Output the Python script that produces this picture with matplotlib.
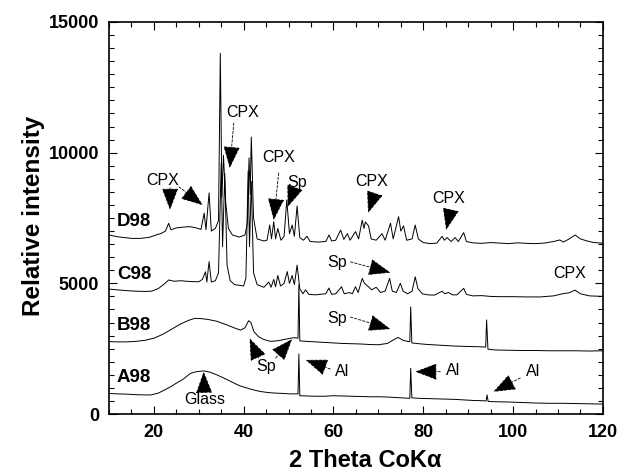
import numpy as np
import matplotlib
matplotlib.use("Agg")
import matplotlib.pyplot as plt
from matplotlib.ticker import MultipleLocator

plt.rcParams['font.family'] = ['Liberation Sans', 'DejaVu Sans']

# ---- read-off trace points (2 theta, intensity) ----
a98_x = [10, 12, 14, 16, 18, 19.3, 21, 22.5, 23.8, 25, 26.5, 28.2, 29.5, 31.1, 32.5, 34, 34.9,
         36.5, 38, 39.3, 41, 42.5, 43.8, 45.5, 47, 48.5, 50.4, 52.1, 52.3, 52.5, 54, 56, 58, 60,
         62, 64, 66, 68, 70, 72, 74, 76, 77.0, 77.2, 77.45, 79, 81, 83, 85, 87, 89, 91, 93, 94.0,
         94.2, 94.45, 96, 99, 102, 105, 108, 111, 114, 117, 120]
a98_y = [790, 770, 760, 740, 730, 730, 800, 930, 1050, 1180, 1330, 1560, 1620, 1650, 1600, 1500, 1430,
         1300, 1170, 1070, 980, 910, 860, 820, 800, 790, 770, 770, 2300, 700, 690, 680, 680, 700,
         690, 680, 670, 660, 660, 650, 630, 610, 600, 1750, 620, 600, 590, 580, 570, 560, 540, 520, 510, 500,
         730, 480, 470, 460, 440, 420, 410, 410, 400, 390, 380]

b98_x = [10, 12, 14, 16, 18, 20, 22, 24, 26, 28, 29.2, 30.5, 32, 34, 36.4, 38, 39.3, 40.3, 41.1,
         41.6, 42.3, 43.3, 44.5, 46, 47.5, 49, 50.4, 51.5, 52.1, 52.3, 52.5, 54, 56, 58, 60, 62, 64,
         66, 68, 70, 72, 73.5, 74.4, 75.5, 76.5, 77.0, 77.2, 77.45, 79, 81, 83, 85, 87, 89, 91, 93,
         93.9, 94.1, 94.4, 96, 99, 102, 105, 108, 111, 114, 117, 120]
b98_y = [2770, 2760, 2760, 2780, 2820, 2900, 3050, 3250, 3450, 3600, 3660, 3650, 3620, 3550, 3400, 3290,
         3210, 3300, 3570, 3500, 3150, 2960, 2850, 2780, 2800, 2850, 2900, 2920, 2900, 4950, 2800, 2780,
         2760, 2740, 2720, 2700, 2690, 2680, 2660, 2650, 2700, 2850, 2930, 2820, 2780, 2770, 4100, 2720,
         2690, 2660, 2640, 2620, 2600, 2590, 2580, 2570, 2560, 3600, 2480, 2450, 2440, 2430, 2430, 2420,
         2420, 2420, 2410, 2420]

c98_x = [10, 12, 14, 16, 18, 19.5, 21, 22.5, 23.3, 24.5, 26, 28, 30, 30.8, 31.5, 31.8, 32.3, 32.8,
         33.7, 34.4, 35.0, 35.3, 35.8, 36.3, 37.0, 38, 40, 40.5, 41.0, 41.3, 41.7, 42.2, 43, 44.5,
         45.6, 46.1, 46.7, 47.1, 47.6, 48.2, 49.0, 49.7, 50.2, 50.8, 51.3, 51.9, 52.5, 53.2, 53.8,
         54.5, 56, 57, 58.3, 59, 59.6, 60.5, 61.8, 62.4, 63.5, 64.2, 64.9, 65.5, 66.4, 66.9, 67.6,
         68.5, 69.5, 70.5, 71.5, 72.5, 73.1, 74.0, 74.9, 75.5, 76.5, 77.5, 78.2, 78.8, 79.8, 81,
         82.5, 84.2, 84.8, 85.6, 86.5, 87.5, 89.0, 89.6, 91, 93, 95, 97, 100, 103, 106, 109, 111,
         112.5, 113.8, 115, 117, 120]
c98_y = [4780, 4750, 4720, 4700, 4690, 4700, 4800, 5000, 5130, 5080, 5100, 5070, 5060, 5150, 5440, 5050,
         5830, 5050, 5100, 5400, 9600, 6400, 9200, 5700, 5100, 4950, 4900, 5200, 9300, 6400, 8900, 5400,
         4950, 4850, 5050, 4850, 5150, 4870, 5300, 4900, 5000, 5450, 5000, 5300, 4950, 5700, 4800, 4600,
         4750, 4580, 4560, 4580, 4600, 4820, 4580, 4600, 4870, 4600, 4650, 4600, 4870, 4650, 5190, 5000,
         4900, 4750, 4850, 4650, 4700, 5190, 4700, 4650, 5000, 4700, 4600, 4700, 5250, 4800, 4600, 4560,
         4550, 4700, 4600, 4650, 4560, 4560, 4810, 4580, 4520, 4530, 4500, 4490, 4490, 4480, 4480, 4520,
         4600, 4640, 4740, 4600, 4520, 4500]

d98_x = [10, 12, 15, 17, 19, 20.5, 21.6, 22.6, 23.3, 23.8, 25, 26.5, 28, 29.5, 30.5, 31.2, 31.6, 32.3,
         32.8, 33.7, 34.4, 34.8, 35.15, 35.5, 36.0, 36.6, 37.5, 39, 40.3, 40.8, 41.2, 41.45, 41.7, 42.2,
         43, 44.5, 45.2, 45.8, 46.2, 46.7, 47.1, 47.6, 48.3, 49.0, 49.6, 50.2, 50.8, 51.3, 51.9, 52.5,
         53.3, 54.1, 54.8, 56.5, 58.3, 59, 59.6, 60.5, 61.6, 62.3, 63.1, 63.7, 64.9, 65.6, 66.4, 66.8,
         67.1, 67.8, 68.4, 69.5, 70.8, 71.5, 72.7, 73.3, 74.5, 75.0, 75.6, 76.3, 77.5, 78.2, 78.9, 80,
         81.5, 83, 84.2, 84.7, 85.3, 86.2, 87.1, 87.8, 89.0, 89.6, 91, 93, 95, 97, 99, 101, 103, 105,
         107, 109, 110.4, 111.2, 112.5, 113.8, 115, 116.5, 118, 120]
d98_y = [6850, 6780, 6720, 6720, 6760, 6850, 6910, 7000, 7300, 7050, 7120, 7150, 7170, 7120, 7060, 7690,
         7050, 8460, 7000, 7100, 7400, 13800, 8300, 9900, 8100, 7100, 6850, 6770, 6850, 7300, 9800, 8400,
         10600, 7500, 6700, 6620, 6650, 7230, 6700, 7360, 6700, 7100, 6650, 6800, 8190, 6900, 7230, 6800,
         7960, 6750, 6650, 6800, 6600, 6580, 6600, 6850, 6620, 6650, 7040, 6680, 6900, 6650, 6980, 6700,
         7420, 7100, 7350, 7200, 6700, 6650, 6900, 6650, 7300, 6700, 7550, 7000, 7200, 6650, 6700, 7230,
         6700, 6560, 6520, 6540, 6800, 6650, 6750, 6600, 6750, 6600, 6940, 6600, 6550, 6530, 6560, 6540,
         6520, 6550, 6530, 6520, 6540, 6600, 6660, 6580, 6700, 6850, 6700, 6620, 6560, 6540]

sample_names = ["A98", "B98", "C98", "D98"]
sample_label_y = [1415, 3370, 5320, 7385]

# phase labels: (text, x, y)
phase_text = ["CPX", "CPX", "CPX", "Sp", "CPX", "CPX", "Sp", "CPX", "Sp", "Sp", "Al", "Al", "Al", "Glass"]
phase_x = [22.0, 39.8, 47.8, 52.0, 68.5, 85.6, 60.9, 112.7, 60.9, 45.1, 62.0, 86.7, 104.4, 31.3]
phase_y = [8920, 11520, 9800, 8840, 8880, 8230, 5780, 5390, 3670, 1800, 1610, 1650, 1610, 570]

# arrows: tail -> tip
arrow_tail_x = [23.6, 25.6, 37.8, 47.8, 51.1, 68.9, 86.0, 63.8, 63.8, 43.3, 47.1, 59.3, 83.8, 101.6, 31.2]
arrow_tail_y = [8650, 8690, 11135, 9220, 8530, 8300, 7730, 5820, 3710, 2140, 2140, 1720, 1620, 1380, 820]
arrow_tip_x = [23.6, 30.9, 36.9, 46.7, 49.8, 67.7, 85.1, 72.7, 72.7, 41.3, 50.8, 53.8, 78.2, 95.6, 31.1]
arrow_tip_y = [7810, 7990, 9410, 7420, 7920, 7690, 7040, 5410, 3250, 2900, 2870, 2070, 1620, 850, 1620]

fig = plt.figure(figsize=(6.19, 4.73), dpi=100)
ax = fig.add_axes([0.176, 0.1247, 0.798, 0.8288])

for xs, ys in [(a98_x, a98_y), (b98_x, b98_y), (c98_x, c98_y), (d98_x, d98_y)]:
    ax.plot(xs, ys, color='black', lw=0.7)

for name, y in zip(sample_names, sample_label_y):
    ax.text(11.8, y, name, fontsize=13.5, fontweight='bold', ha='left', va='center')

for t, x, y in zip(phase_text, phase_x, phase_y):
    ax.text(x, y, t, fontsize=11.5, ha='center', va='center')

for tx, ty, hx, hy in zip(arrow_tail_x, arrow_tail_y, arrow_tip_x, arrow_tip_y):
    ax.annotate("", xy=(hx, hy), xytext=(tx, ty),
                arrowprops=dict(arrowstyle='-|>,head_length=1.0,head_width=0.38',
                                mutation_scale=14, color='black', lw=0.6,
                                linestyle=(0, (3, 2)), shrinkA=0, shrinkB=0))

ax.set_xlim(10, 120)
ax.set_ylim(0, 15000)
ax.xaxis.set_major_locator(MultipleLocator(20))
ax.xaxis.set_minor_locator(MultipleLocator(5))
ax.yaxis.set_major_locator(MultipleLocator(5000))
ax.yaxis.set_minor_locator(MultipleLocator(500))
ax.tick_params(which='both', direction='in', top=True, right=True, width=0.8)
ax.tick_params(which='major', length=6, labelsize=13, pad=7)
ax.tick_params(which='minor', length=3.5)
for lab in ax.get_xticklabels() + ax.get_yticklabels():
    lab.set_fontweight('bold')
for sp in ax.spines.values():
    sp.set_linewidth(1.2)

ax.set_xlabel("2 Theta CoK\u03b1", fontsize=17, fontweight='bold')
ax.set_ylabel("Relative intensity", fontsize=17.5, fontweight='bold')
ax.xaxis.set_label_coords(0.518, -0.09)
ax.yaxis.set_label_coords(-0.13, 0.505)

fig.savefig("out.png", dpi=100)
